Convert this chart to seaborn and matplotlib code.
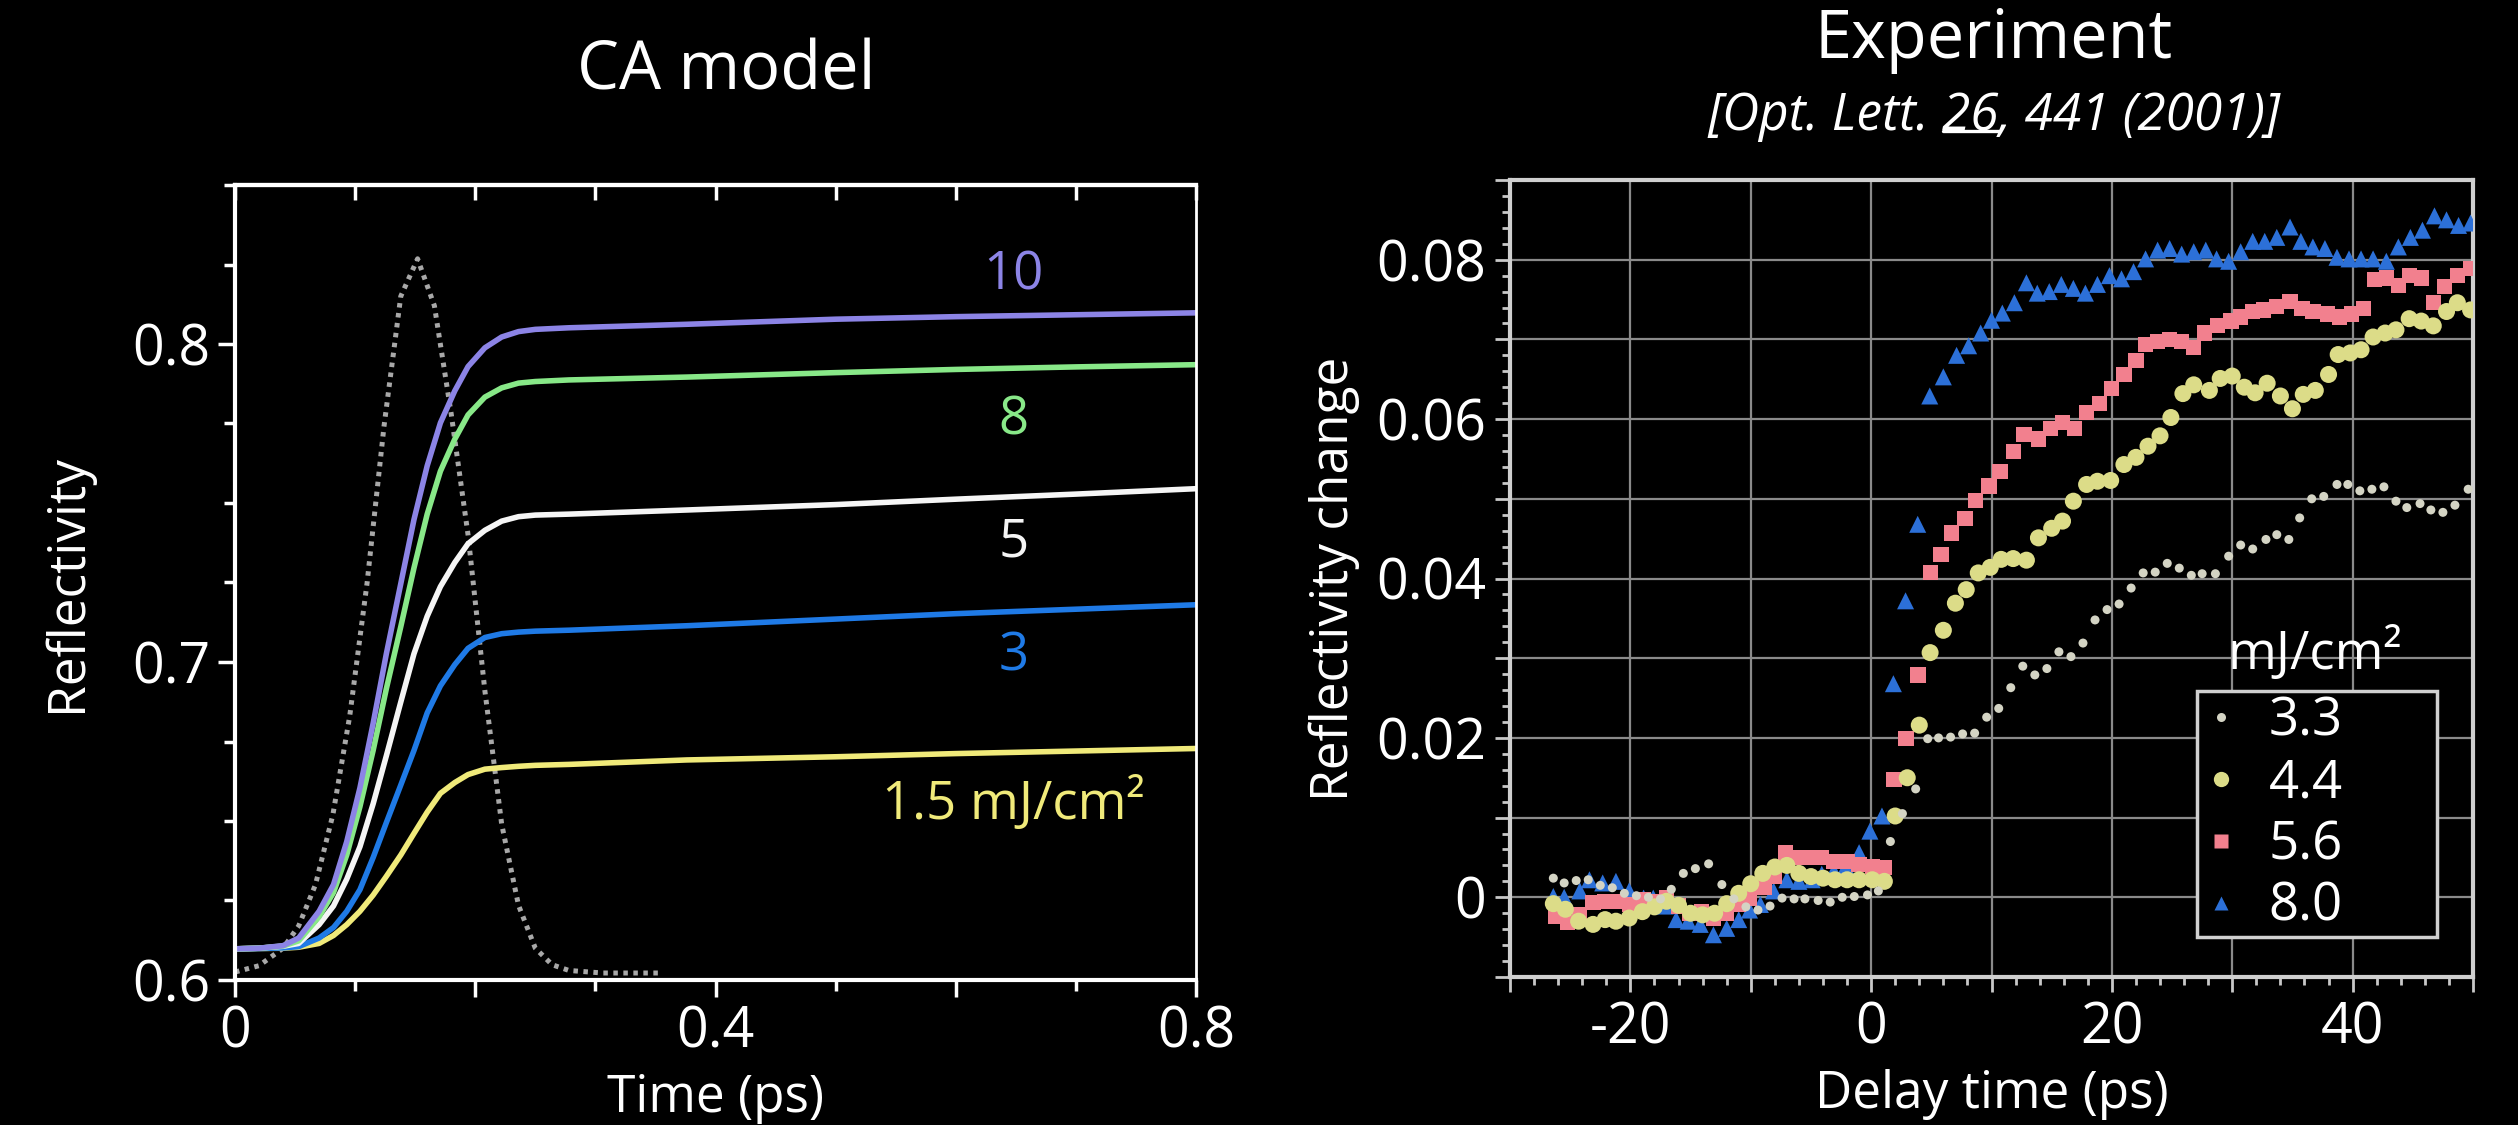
import numpy as np
import pandas as pd
import matplotlib
matplotlib.use("Agg")
import matplotlib.pyplot as plt
from matplotlib.lines import Line2D
from matplotlib.ticker import MultipleLocator, FuncFormatter
import seaborn as sns

# ---------------- data: CA model (left) ----------------
t_model = [0, 0.02, 0.04, 0.053, 0.070, 0.082, 0.093, 0.104, 0.115, 0.126, 0.138,
           0.149, 0.160, 0.171, 0.183, 0.194, 0.208, 0.222, 0.236, 0.250, 0.278,
           0.376, 0.5, 0.6, 0.7, 0.8]
R_10 = [0.6098, 0.6100, 0.6108, 0.6132, 0.6216, 0.6300, 0.6435, 0.6604, 0.6807, 0.7026,
        0.7246, 0.7448, 0.7617, 0.7752, 0.7853, 0.7929, 0.7988, 0.8022, 0.8039, 0.8046,
        0.8051, 0.8062, 0.8078, 0.8086, 0.8092, 0.8098]
R_8 = [0.6098, 0.6100, 0.6107, 0.6123, 0.6199, 0.6275, 0.6393, 0.6545, 0.6722, 0.6916,
       0.7111, 0.7296, 0.7465, 0.7600, 0.7701, 0.7777, 0.7833, 0.7862, 0.7877, 0.7882,
       0.7887, 0.7896, 0.7910, 0.7920, 0.7928, 0.7935]
R_5 = [0.6098, 0.6100, 0.6106, 0.6115, 0.6174, 0.6233, 0.6317, 0.6419, 0.6554, 0.6705,
       0.6874, 0.7026, 0.7144, 0.7237, 0.7313, 0.7372, 0.7414, 0.7443, 0.7457, 0.7462,
       0.7465, 0.7478, 0.7495, 0.7512, 0.7528, 0.7545]
R_3 = [0.6098, 0.6099, 0.6101, 0.6105, 0.6132, 0.6165, 0.6216, 0.6284, 0.6385, 0.6495,
       0.6613, 0.6722, 0.6840, 0.6925, 0.6992, 0.7043, 0.7077, 0.7089, 0.7094, 0.7097,
       0.7100, 0.7114, 0.7135, 0.7152, 0.7166, 0.7180]
R_15 = [0.6098, 0.6099, 0.6100, 0.6103, 0.6115, 0.6140, 0.6174, 0.6216, 0.6267, 0.6326,
        0.6393, 0.6461, 0.6528, 0.6587, 0.6621, 0.6646, 0.6663, 0.6668, 0.6672, 0.6675,
        0.6678, 0.6692, 0.6702, 0.6712, 0.6720, 0.6728]
model_names = ["1.5", "3", "5", "8", "10"]
model_labels = ["1.5 mJ/cm²", "3", "5", "8", "10"]
model_label_y = [0.6553, 0.7015, 0.7375, 0.7759, 0.8216]
model_colors = ["#f0ea7a", "#1f7ae6", "#f5f5f5", "#88e888", "#8c84e6"]

t_pulse = [0, 0.02, 0.04, 0.053, 0.067, 0.0815, 0.0955, 0.11, 0.124, 0.138, 0.152,
           0.166, 0.18, 0.194, 0.208, 0.222, 0.236, 0.25, 0.264, 0.278, 0.306, 0.354]
pulse = [0.6025, 0.6045, 0.6100, 0.6170, 0.6300, 0.6520, 0.6830, 0.7250, 0.7740, 0.8150,
         0.8268, 0.8120, 0.7780, 0.7400, 0.6910, 0.6490, 0.6235, 0.6100, 0.6048, 0.6030,
         0.6022, 0.6022]

# ---------------- data: experiment (right) ----------------
x_33 = [-26.4, -25.5, -24.5, -23.5, -22.5, -21.5, -20.5, -19.5, -18.5, -17.5, -16.6, -15.6,
        -14.6, -13.5, -12.4, -11.4, -10.4, -9.4, -8.4, -7.4, -6.4, -5.5, -4.4, -3.4, -2.4,
        -1.4, -0.3, 0.6, 1.6, 2.6, 3.7, 4.7, 5.6, 6.6, 7.6, 8.6, 9.6, 10.6, 11.6, 12.6, 13.6,
        14.6, 15.6, 16.6, 17.6, 18.6, 19.6, 20.6, 21.6, 22.6, 23.6, 24.6, 25.6, 26.6, 27.5,
        28.6, 29.7, 30.7, 31.7, 32.8, 33.7, 34.7, 35.6, 36.6, 37.6, 38.7, 39.6, 40.6, 41.6,
        42.6, 43.6, 44.5, 45.6, 46.5, 47.5, 48.5, 49.6]
y_33 = [0.0024, 0.0018, 0.0021, 0.0022, 0.0015, 0.0012, 0.0005, 0.0002, 0.0000, -0.0002,
        0.0010, 0.0030, 0.0036, 0.0042, 0.0016, -0.0002, -0.0012, -0.0016, -0.0011, -0.0001,
        -0.0002, -0.0002, -0.0004, -0.0006, 0.0000, 0.0001, 0.0003, 0.0008, 0.0070, 0.0105,
        0.0136, 0.0199, 0.0200, 0.0201, 0.0205, 0.0206, 0.0226, 0.0237, 0.0263, 0.0290,
        0.0279, 0.0287, 0.0308, 0.0302, 0.0319, 0.0348, 0.0361, 0.0368, 0.0388, 0.0407,
        0.0408, 0.0419, 0.0413, 0.0404, 0.0406, 0.0406, 0.0428, 0.0442, 0.0437, 0.0449,
        0.0455, 0.0449, 0.0476, 0.0500, 0.0503, 0.0518, 0.0518, 0.0510, 0.0512, 0.0515,
        0.0497, 0.0489, 0.0494, 0.0486, 0.0483, 0.0492, 0.0512]

x_44 = [-26.4, -25.4, -24.3, -23.1, -22.1, -21.2, -20.1, -19.0, -18.0, -17.0, -16.0, -15.0,
        -14.0, -13.0, -12.0, -11.0, -10.0, -9.0, -8.0, -7.0, -6.0, -5.0, -4.0, -3.0, -2.0,
        -1.0, 0.1, 1.1, 2.0, 3.0, 4.0, 4.9, 6.0, 7.0, 7.9, 8.9, 9.9, 10.8, 11.8, 12.9, 13.9,
        15.0, 15.9, 16.8, 17.9, 18.8, 19.9, 21.0, 22.0, 23.0, 24.0, 24.9, 25.9, 26.8, 28.1,
        29.0, 30.0, 31.0, 31.9, 32.9, 34.0, 35.0, 35.9, 36.9, 38.0, 38.8, 39.8, 40.7, 41.7,
        42.7, 43.6, 44.7, 45.7, 46.7, 47.8, 48.7, 49.8]
y_44 = [-0.0008, -0.0015, -0.0030, -0.0034, -0.0028, -0.0030, -0.0026, -0.0018, -0.0012,
        -0.0005, -0.0010, -0.0020, -0.0022, -0.0020, -0.0008, 0.0005, 0.0017, 0.0030, 0.0038,
        0.0040, 0.0030, 0.0026, 0.0024, 0.0022, 0.0022, 0.0022, 0.0022, 0.0020, 0.0102,
        0.0150, 0.0216, 0.0307, 0.0335, 0.0369, 0.0386, 0.0407, 0.0414, 0.0424, 0.0425,
        0.0423, 0.0451, 0.0463, 0.0472, 0.0497, 0.0518, 0.0522, 0.0523, 0.0543, 0.0552,
        0.0566, 0.0579, 0.0602, 0.0632, 0.0643, 0.0636, 0.0651, 0.0654, 0.0640, 0.0633,
        0.0645, 0.0629, 0.0613, 0.0631, 0.0636, 0.0656, 0.0681, 0.0683, 0.0687, 0.0703,
        0.0708, 0.0712, 0.0726, 0.0723, 0.0717, 0.0735, 0.0746, 0.0737]

x_56 = [-26.2, -25.2, -24.2, -23.1, -22.1, -21.2, -20.1, -18.9, -18.0, -17.0, -16.0, -15.1,
        -14.1, -13.1, -12.0, -11.0, -10.1, -8.9, -8.0, -7.1, -6.0, -5.1, -4.1, -3.1, -2.0,
        -1.0, 0.1, 1.1, 1.9, 2.9, 3.9, 4.9, 5.8, 6.7, 7.8, 8.7, 9.8, 10.7, 11.8, 12.7, 13.9,
        14.9, 15.9, 16.9, 17.9, 19.0, 20.0, 21.0, 22.0, 22.8, 23.8, 24.8, 25.8, 26.8, 27.7,
        28.8, 29.9, 30.7, 31.7, 32.6, 33.7, 34.8, 35.8, 36.7, 37.9, 38.9, 39.9, 40.9, 41.8,
        42.8, 43.8, 44.7, 45.7, 46.7, 47.6, 48.7, 49.8]
y_56 = [-0.0024, -0.0032, -0.0022, -0.0007, -0.0005, -0.0005, -0.0009, -0.0003, -0.0005,
        -0.0001, -0.0011, -0.0020, -0.0018, -0.0026, -0.0020, -0.0009, -0.0001, 0.0012,
        0.0026, 0.0056, 0.0050, 0.0050, 0.0050, 0.0045, 0.0045, 0.0041, 0.0039, 0.0037,
        0.0148, 0.0199, 0.0279, 0.0408, 0.0430, 0.0457, 0.0475, 0.0498, 0.0516, 0.0534,
        0.0559, 0.0581, 0.0575, 0.0588, 0.0596, 0.0588, 0.0608, 0.0620, 0.0638, 0.0656,
        0.0674, 0.0694, 0.0697, 0.0700, 0.0697, 0.0690, 0.0708, 0.0717, 0.0723, 0.0728,
        0.0735, 0.0737, 0.0741, 0.0748, 0.0739, 0.0735, 0.0732, 0.0728, 0.0732, 0.0739,
        0.0775, 0.0777, 0.0768, 0.0780, 0.0777, 0.0746, 0.0766, 0.0780, 0.0789]

x_80 = [-26.4, -25.5, -24.2, -23.4, -22.3, -21.2, -20.1, -18.9, -18.1, -17.1, -16.2, -15.2,
        -14.2, -13.1, -12.0, -11.0, -10.1, -9.2, -8.1, -7.0, -6.0, -4.9, -4.1, -3.1, -2.1,
        -1.0, -0.1, 0.9, 1.85, 2.86, 3.87, 4.87, 6.0, 7.1, 8.1, 9.1, 10.0, 10.9, 11.9, 12.9,
        13.8, 14.8, 15.8, 16.8, 17.8, 18.8, 19.8, 20.8, 21.8, 22.8, 23.8, 24.8, 25.8, 26.8,
        27.8, 28.7, 29.7, 30.7, 31.7, 32.7, 33.7, 34.8, 35.7, 36.7, 37.7, 38.7, 39.7, 40.7,
        41.7, 42.8, 43.8, 44.8, 45.8, 46.8, 47.8, 48.8, 49.8]
y_80 = [0.0001, 0.0000, 0.0008, 0.0022, 0.0018, 0.0020, 0.0008, -0.0001, -0.0001, -0.0011,
        -0.0028, -0.0030, -0.0034, -0.0047, -0.0039, -0.0028, -0.0016, -0.0009, 0.0008,
        0.0022, 0.0020, 0.0022, 0.0029, 0.0033, 0.0039, 0.0056, 0.0083, 0.0102, 0.0268,
        0.0372, 0.0468, 0.0629, 0.0653, 0.0680, 0.0692, 0.0708, 0.0724, 0.0733, 0.0746,
        0.0771, 0.0758, 0.0760, 0.0769, 0.0764, 0.0758, 0.0769, 0.0780, 0.0776, 0.0785,
        0.0801, 0.0812, 0.0814, 0.0807, 0.0810, 0.0812, 0.0801, 0.0798, 0.0810, 0.0823,
        0.0823, 0.0828, 0.0841, 0.0823, 0.0816, 0.0814, 0.0803, 0.0801, 0.0801, 0.0801,
        0.0798, 0.0816, 0.0828, 0.0837, 0.0855, 0.0850, 0.0843, 0.0846]

exp_names = ["3.3", "4.4", "5.6", "8.0"]
exp_colors = ["#d4d4c4", "#dcdc88", "#f2808e", "#2c70d8"]
exp_markers = ["o", "o", "s", "^"]
exp_sizes = [42, 150, 120, 150]

# ---------------- style ----------------
sns.set_theme(style="ticks", rc={
    "figure.facecolor": "black", "axes.facecolor": "black",
    "savefig.facecolor": "black", "text.color": "white",
    "axes.labelcolor": "white", "xtick.color": "white", "ytick.color": "white",
    "axes.edgecolor": "white",
})
plt.rcParams["font.family"] = ["Open Sans", "DejaVu Sans"]

W, H = 2518, 1125
fig = plt.figure(figsize=(W / 100, H / 100), dpi=100)


def fx(px):
    return px / W


def fy(py):
    return 1 - py / H


axL = fig.add_axes([fx(235), fy(980), fx(1196) - fx(235), fy(185) - fy(980)])
axR = fig.add_axes([fx(1510), fy(977), fx(2473) - fx(1510), fy(180) - fy(977)])

TICK_FS = 40
LAB_FS = 37
NOTE_FS = 38
LEG_FS = 38

# ---------------- left panel ----------------
pulse_df = pd.DataFrame({"t": t_pulse, "R": pulse})
sns.lineplot(data=pulse_df, x="t", y="R", ax=axL, color="#a8a8a8", lw=3.6,
             estimator=None, sort=False, legend=False)
pl = axL.get_lines()[-1]
pl.set_linestyle((0, (0.9, 1.1)))

model_df = pd.DataFrame({
    "t": np.tile(t_model, 5),
    "R": np.concatenate([R_15, R_3, R_5, R_8, R_10]),
    "F": np.repeat(model_names, len(t_model)),
})
sns.lineplot(data=model_df, x="t", y="R", hue="F", hue_order=model_names,
             palette=dict(zip(model_names, model_colors)), lw=4.0,
             estimator=None, sort=False, legend=False, ax=axL)

for lab, yv, c in zip(model_labels, model_label_y, model_colors):
    axL.text(0.648, yv, lab, color=c, fontsize=NOTE_FS, ha="center", va="center")

axL.set_xlim(0, 0.8)
axL.set_ylim(0.6, 0.85)
axL.xaxis.set_major_locator(MultipleLocator(0.2))
axL.xaxis.set_minor_locator(MultipleLocator(0.1))
axL.yaxis.set_major_locator(MultipleLocator(0.1))
axL.yaxis.set_minor_locator(MultipleLocator(0.025))


def fmt_left_x(v, pos):
    if abs(v / 0.4 - round(v / 0.4)) < 1e-6:
        return "0" if abs(v) < 1e-9 else f"{v:g}"
    return ""


axL.xaxis.set_major_formatter(FuncFormatter(fmt_left_x))
axL.yaxis.set_major_formatter(FuncFormatter(lambda v, p: f"{v:.1f}"))
axL.tick_params(axis="both", which="both", direction="out", colors="white",
                width=2.5, labelsize=TICK_FS, labelcolor="white")
axL.tick_params(axis="both", which="major", length=12, pad=6)
axL.tick_params(axis="both", which="minor", length=8)
for s in axL.spines.values():
    s.set_color("white")
    s.set_linewidth(3)
axL.spines["right"].set_linewidth(2)
secL = axL.secondary_xaxis("top")
secL.set_xticks(np.arange(0, 0.81, 0.1))
secL.tick_params(direction="in", length=11, width=2.5, colors="white", labeltop=False)
secL.spines["top"].set_color("white")
secL.spines["top"].set_linewidth(3)
axL.set_xlabel("Time (ps)", fontsize=LAB_FS, labelpad=8)
axL.set_ylabel("Reflectivity", fontsize=LAB_FS, labelpad=28)

# ---------------- right panel ----------------
axR.set_axisbelow(True)
series = [(x_80, y_80, 3), (x_56, y_56, 2), (x_44, y_44, 1), (x_33, y_33, 0)]
for xs, ys, i in series:
    sns.scatterplot(x=xs, y=ys, ax=axR, color=exp_colors[i], marker=exp_markers[i],
                    s=exp_sizes[i], edgecolor="none", linewidth=0, legend=False,
                    zorder=3 + (3 - i))

axR.set_xlim(-30, 50)
axR.set_ylim(-0.01, 0.09)
axR.xaxis.set_major_locator(MultipleLocator(10))
axR.xaxis.set_minor_locator(MultipleLocator(2))
axR.yaxis.set_major_locator(MultipleLocator(0.01))
axR.yaxis.set_minor_locator(MultipleLocator(0.002))


def fmt_right_x(v, pos):
    if abs(v / 20 - round(v / 20)) < 1e-6:
        return "0" if abs(v) < 1e-9 else f"{int(round(v))}"
    return ""


def fmt_right_y(v, pos):
    k = v / 0.02
    if abs(k - round(k)) < 1e-6:
        return "0" if abs(v) < 1e-9 else f"{v:.2f}"
    return ""


axR.xaxis.set_major_formatter(FuncFormatter(fmt_right_x))
axR.yaxis.set_major_formatter(FuncFormatter(fmt_right_y))
axR.grid(True, which="major", color="#8a8a8a", lw=1.6)
axR.tick_params(axis="both", which="both", direction="out", colors="#c8c8c8",
                width=2, labelsize=TICK_FS, labelcolor="white")
axR.tick_params(axis="both", which="major", length=11, pad=6)
axR.tick_params(axis="both", which="minor", length=6)
for s in axR.spines.values():
    s.set_color("#cfcfcf")
    s.set_linewidth(3)
axR.set_xlabel("Delay time (ps)", fontsize=LAB_FS, labelpad=8)
axR.set_ylabel("Reflectivity change", fontsize=LAB_FS, labelpad=12)

handles = [Line2D([], [], linestyle="none", marker=exp_markers[i], markersize=ms,
                  markerfacecolor=exp_colors[i], markeredgecolor="none")
           for i, ms in zip(range(4), [6.5, 11, 9.5, 10.5])]
leg = axR.legend(handles, exp_names, loc="lower left",
                 bbox_to_anchor=(0.713, 0.05, 0.25, 0.30), mode="expand",
                 frameon=True, fancybox=False, edgecolor="#d0d0d0", facecolor="black",
                 framealpha=1, fontsize=LEG_FS, handlelength=0.8, handletextpad=0.5,
                 borderpad=0.06, labelspacing=0.16, borderaxespad=0)
leg.get_frame().set_linewidth(2.5)
for tx in leg.get_texts():
    tx.set_color("white")
leg.set_zorder(10)
axR.text(0.836, 0.405, "mJ/cm²", transform=axR.transAxes, ha="center", va="center",
         fontsize=LEG_FS, color="white", zorder=11)

# ---------------- titles ----------------
fig.text(fx(726), fy(72), "CA model", ha="center", va="center", fontsize=48, color="white")
fig.text(fx(1994), fy(40), "Experiment", ha="center", va="center", fontsize=48, color="white")
SUB_FS = 37
sub_full = "[Opt. Lett. 26, 441 (2001)]"
sub = fig.text(fx(1994), fy(117), sub_full, ha="center", va="center", fontsize=SUB_FS,
               color="white", style="italic")

fig.canvas.draw()
r = fig.canvas.get_renderer()
bb = sub.get_window_extent(r)
tmp1 = fig.text(0, 0, "[Opt. Lett. 26", fontsize=SUB_FS, style="italic")
tmp2 = fig.text(0, 0, "26", fontsize=SUB_FS, style="italic")
w1 = tmp1.get_window_extent(r).width
w2 = tmp2.get_window_extent(r).width
tmp1.remove()
tmp2.remove()
x_end = bb.x0 + w1
x_start = x_end - w2
y_line = bb.y0 + bb.height * 0.22
fig.add_artist(Line2D([x_start / W, x_end / W], [y_line / H, y_line / H],
                      transform=fig.transFigure, color="white", lw=2.4))

fig.savefig("out.png", dpi=100, facecolor="black")
